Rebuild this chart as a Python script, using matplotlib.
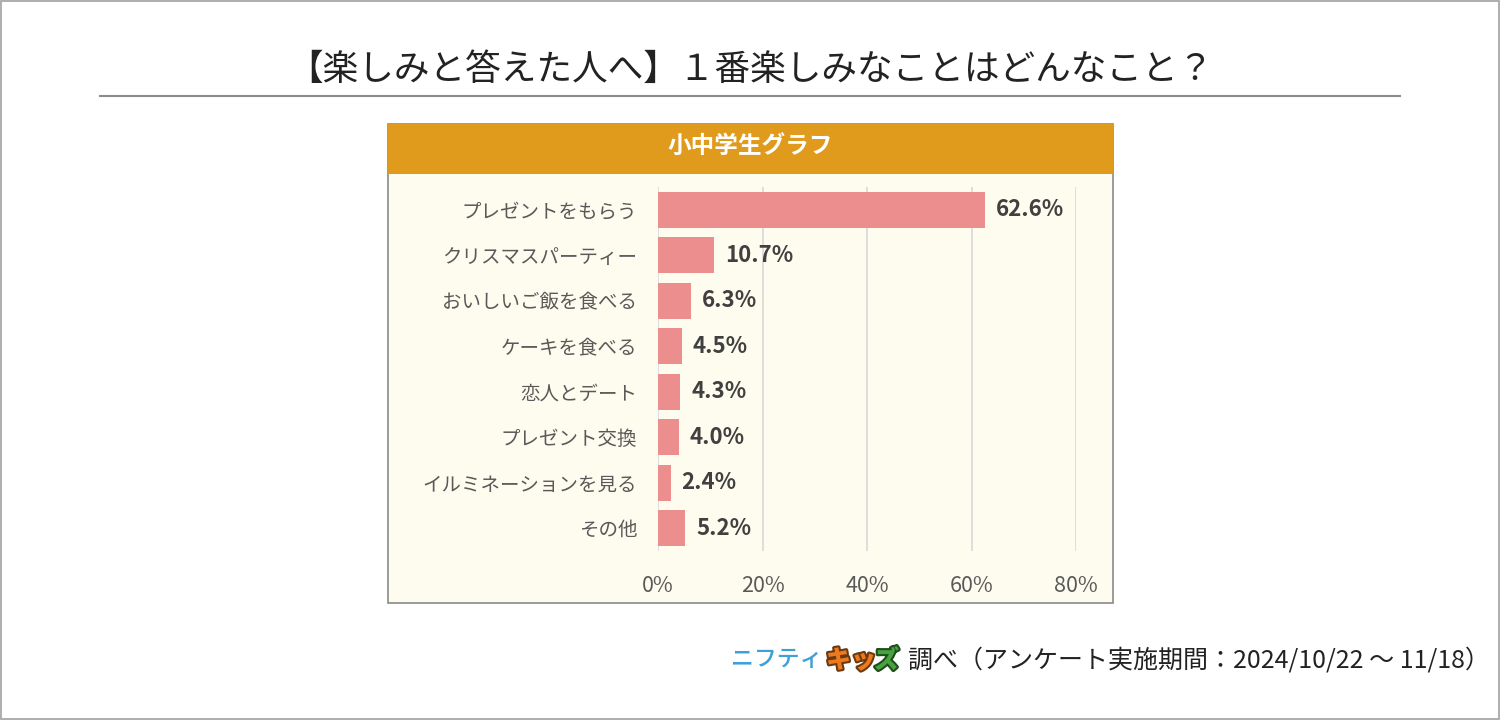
import matplotlib.pyplot as plt
import matplotlib.patheffects as pe
from matplotlib.patches import Rectangle

plt.rcParams['font.family'] = ['Noto Sans CJK JP', 'DejaVu Sans']

# data
categories = ["プレゼントをもらう", "クリスマスパーティー", "おいしいご飯を食べる", "ケーキを食べる",
              "恋人とデート", "プレゼント交換", "イルミネーションを見る", "その他"]
values = [62.6, 10.7, 6.3, 4.5, 4.3, 4.0, 2.4, 5.2]
xticks = [0, 20, 40, 60, 80]
xtick_labels = ["0%", "20%", "40%", "60%", "80%"]

W, H = 1500, 720
fig = plt.figure(figsize=(15, 7.2), dpi=100)
fig.patch.set_facecolor("white")

# helper: pixel -> figure fraction
def fx(x):
    return x / W

def fy(y):
    return 1 - y / H

# outer border
fig.patches.append(Rectangle((fx(1), fy(719)), fx(1498), 718 / H, transform=fig.transFigure,
                             fill=False, edgecolor="#A0A0A0", lw=1.2, zorder=-2))

# title + rule
fig.text(0.5, fy(70), "【楽しみと答えた人へ】１番楽しみなことはどんなこと？", ha="center", va="center",
         fontsize=25.7, color="#222222")
fig.lines.append(plt.Line2D([fx(100), fx(1400)], [fy(96), fy(96)], transform=fig.transFigure,
                            color="#8C8C8C", lw=1.5))

# panel (behind the axes)
fig.patches.append(Rectangle((fx(388), fy(603)), fx(1113 - 388), (603 - 124) / H,
                             transform=fig.transFigure, facecolor="#FEFCEE",
                             edgecolor="#8A8A8A", lw=1.2, zorder=-1))
fig.patches.append(Rectangle((fx(388), fy(174)), fx(1113 - 388), 50 / H,
                             transform=fig.transFigure, facecolor="#E09B1C",
                             edgecolor="none", zorder=-0.5))
fig.text(fx(750), fy(146), "小中学生グラフ", ha="center", va="center", fontsize=17,
         color="white", fontweight="bold")

# axes: x 0..80 spans 658..1076 px, bars 187..551 px
ax = fig.add_axes([fx(658), fy(551), fx(1076 - 658), 364 / H])
ax.set_zorder(1)
ax.set_facecolor("none")
y = list(range(len(categories)))
ax.barh(y, values, height=0.79, color="#EC8E8E", zorder=2)
ax.set_xlim(0, 80)
ax.set_ylim(len(categories) - 0.5, -0.5)
ax.set_xticks(xticks)
ax.set_xticklabels(xtick_labels, fontsize=15.5, color="#595959")
ax.set_yticks(y)
ax.set_yticklabels(categories, fontsize=14, color="#595959")
ax.tick_params(axis="both", length=0)
ax.tick_params(axis="x", pad=17)
ax.tick_params(axis="y", pad=15)
for lab in ax.get_yticklabels():
    lab.set_verticalalignment("center_baseline")
ax.grid(axis="x", color="#D9D9D9", lw=1.2, zorder=1)
for s in ax.spines.values():
    s.set_visible(False)
for yi, v in zip(y, values):
    ax.text(v + 2.1, yi, f"{v:.1f}%", va="center", ha="left", fontsize=16,
            fontweight="bold", color="#404040")

# footer
fig.text(fx(731), fy(660), "ニフティ", ha="left", va="center", fontsize=16.5,
         color="#3AA0D8", fontweight="medium")
fig.text(fx(826), fy(660), "キッ", ha="left", va="center", fontsize=18,
         color="#EE7A1E", fontweight="black",
         path_effects=[pe.withStroke(linewidth=3, foreground="#6B3A10")])
fig.text(fx(874), fy(660), "ズ", ha="left", va="center", fontsize=18,
         color="#47A33E", fontweight="black",
         path_effects=[pe.withStroke(linewidth=3, foreground="#1F4D1C")])
fig.text(fx(908), fy(660), "調べ（アンケート実施期間：2024/10/22 ～ 11/18）", ha="left",
         va="center", fontsize=18, color="#222222")

fig.savefig("out.png", dpi=100, facecolor="white")
